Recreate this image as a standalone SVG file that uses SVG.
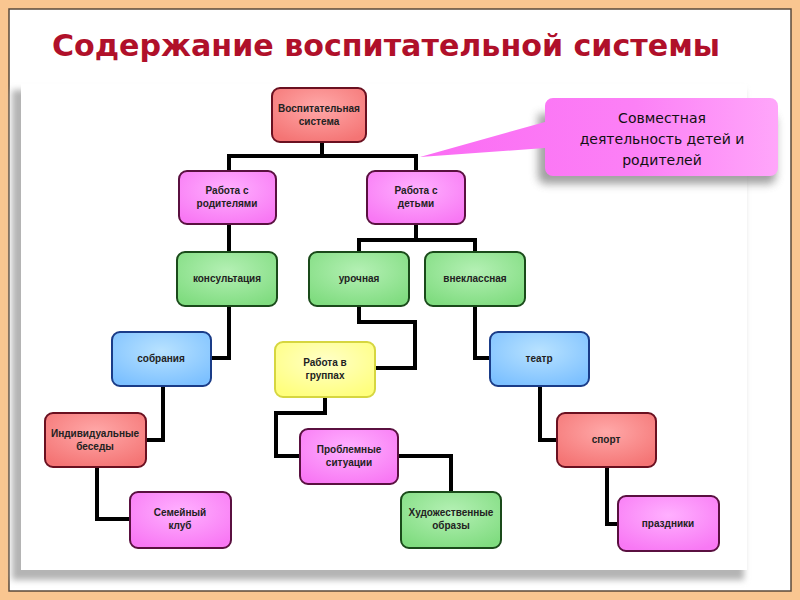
<svg xmlns="http://www.w3.org/2000/svg" width="800" height="600" viewBox="0 0 800 600">
<defs>
<filter id="blur" x="-10%" y="-10%" width="120%" height="120%"><feGaussianBlur stdDeviation="3"/></filter>
<filter id="blur2" x="-20%" y="-40%" width="140%" height="180%"><feGaussianBlur stdDeviation="4"/></filter>
<radialGradient id="gRed" cx="0.5" cy="0.35" r="0.7"><stop offset="0" stop-color="#FFA8A8"/><stop offset="1" stop-color="#F47474"/></radialGradient>
<radialGradient id="gPink" cx="0.5" cy="0.35" r="0.7"><stop offset="0" stop-color="#FFB0FF"/><stop offset="1" stop-color="#F878F4"/></radialGradient>
<radialGradient id="gGreen" cx="0.5" cy="0.35" r="0.7"><stop offset="0" stop-color="#B4F0B4"/><stop offset="1" stop-color="#80DC80"/></radialGradient>
<radialGradient id="gBlue" cx="0.5" cy="0.35" r="0.7"><stop offset="0" stop-color="#B8E2FF"/><stop offset="1" stop-color="#7CC0FF"/></radialGradient>
<radialGradient id="gYellow" cx="0.5" cy="0.35" r="0.7"><stop offset="0" stop-color="#FFFFC8"/><stop offset="1" stop-color="#FFFF7C"/></radialGradient>
<linearGradient id="gCallout" x1="0" y1="0" x2="1" y2="0"><stop offset="0" stop-color="#FB6CF4"/><stop offset="0.6" stop-color="#FC80F6"/><stop offset="1" stop-color="#FFA6FA"/></linearGradient>
</defs>
<style>
.n rect{stroke-width:2}
.red rect{fill:url(#gRed);stroke:#6A1020}
.pink rect{fill:url(#gPink);stroke:#5A1040}
.green rect{fill:url(#gGreen);stroke:#1A4A1A}
.blue rect{fill:url(#gBlue);stroke:#1A3C88}
.yellow rect{fill:url(#gYellow);stroke:#D6D640}
.n text{font-family:"Liberation Sans Narrow","Liberation Sans",Arial,sans-serif;font-weight:bold;font-size:10px;fill:#222;text-anchor:middle}
.c path{fill:none;stroke:#000;stroke-width:4;stroke-linejoin:miter}
</style>
<rect x="0" y="0" width="800" height="600" fill="#F9C690"/>
<rect x="9" y="9" width="782" height="582" fill="#FFFFFF" stroke="#5A4A3A" stroke-width="1.5"/>
<rect x="12" y="90" width="732" height="490" fill="#B4B4B4" filter="url(#blur)"/>
<rect x="21" y="84" width="726" height="486" fill="#FFFFFF"/>
<text x="386" y="56" font-family="'Comic Sans MS','DejaVu Sans',sans-serif" font-weight="bold" font-size="30" fill="#B0102A" text-anchor="middle" textLength="668" lengthAdjust="spacingAndGlyphs">Содержание воспитательной системы</text>
<g id="connectors" class="c">
<path d="M322 142V156M229 171V156H416V171"/>
<path d="M229 224V252"/>
<path d="M416 224V240M359 252V240H475V252"/>
<path d="M229 306V358H211"/>
<path d="M359 306V322H415V368H375"/>
<path d="M475 306V358H490"/>
<path d="M163 386V440H146"/>
<path d="M325 397V413H276V456H300"/>
<path d="M398 456H451V492"/>
<path d="M540 386V440H557"/>
<path d="M97 467V519H130"/>
<path d="M607 467V524H618"/>
</g>
<g id="callout">
<path d="M538 114H768a8 8 0 0 1 8 8V176a8 8 0 0 1-8 8H546a8 8 0 0 1-8-8V160Z" fill="#8A8A8A" opacity="0.8" filter="url(#blur2)"/>
<path d="M553 98H770a8 8 0 0 1 8 8V168a8 8 0 0 1-8 8H553a8 8 0 0 1-8-8V148L420 157L545 122V106a8 8 0 0 1 8-8Z" fill="url(#gCallout)"/>
<g font-family="'Comic Sans MS','DejaVu Sans',sans-serif" font-size="14" fill="#111" text-anchor="middle">
<text x="662" y="123">Совместная</text>
<text x="662" y="144">деятельность детей и</text>
<text x="662" y="165">родителей</text>
</g>
</g>
<g id="n-vs" class="n red"><rect x="272" y="88" width="94" height="54" rx="8"/><text x="319" y="112">Воспитательная</text><text x="319" y="125">система</text></g>
<g id="n-rr" class="n pink"><rect x="179" y="171" width="97" height="53" rx="8"/><text x="227" y="194">Работа с</text><text x="227" y="207">родителями</text></g>
<g id="n-rd" class="n pink"><rect x="367" y="171" width="98" height="53" rx="8"/><text x="416" y="194">Работа с</text><text x="416" y="207">детьми</text></g>
<g id="n-kons" class="n green"><rect x="177" y="252" width="100" height="54" rx="8"/><text x="227" y="282">консультация</text></g>
<g id="n-ur" class="n green"><rect x="309" y="252" width="100" height="54" rx="8"/><text x="359" y="282">урочная</text></g>
<g id="n-vn" class="n green"><rect x="425" y="252" width="100" height="54" rx="8"/><text x="475" y="282">внеклассная</text></g>
<g id="n-sob" class="n blue"><rect x="112" y="332" width="99" height="54" rx="8"/><text x="161" y="362">собрания</text></g>
<g id="n-rg" class="n yellow"><rect x="275" y="342" width="100" height="55" rx="8"/><text x="325" y="366">Работа в</text><text x="325" y="379">группах</text></g>
<g id="n-teatr" class="n blue"><rect x="490" y="332" width="99" height="54" rx="8"/><text x="539" y="362">театр</text></g>
<g id="n-ib" class="n red"><rect x="45" y="413" width="101" height="54" rx="8"/><text x="95" y="437">Индивидуальные</text><text x="95" y="450">беседы</text></g>
<g id="n-ps" class="n pink"><rect x="300" y="429" width="98" height="55" rx="8"/><text x="349" y="453">Проблемные</text><text x="349" y="466">ситуации</text></g>
<g id="n-sport" class="n red"><rect x="557" y="413" width="99" height="54" rx="8"/><text x="606" y="443">спорт</text></g>
<g id="n-sk" class="n pink"><rect x="130" y="492" width="101" height="56" rx="8"/><text x="180" y="516">Семейный</text><text x="180" y="529">клуб</text></g>
<g id="n-ho" class="n green"><rect x="401" y="492" width="100" height="56" rx="8"/><text x="451" y="516">Художественные</text><text x="451" y="529">образы</text></g>
<g id="n-pr" class="n pink"><rect x="618" y="496" width="101" height="55" rx="8"/><text x="668" y="527">праздники</text></g>
</svg>
